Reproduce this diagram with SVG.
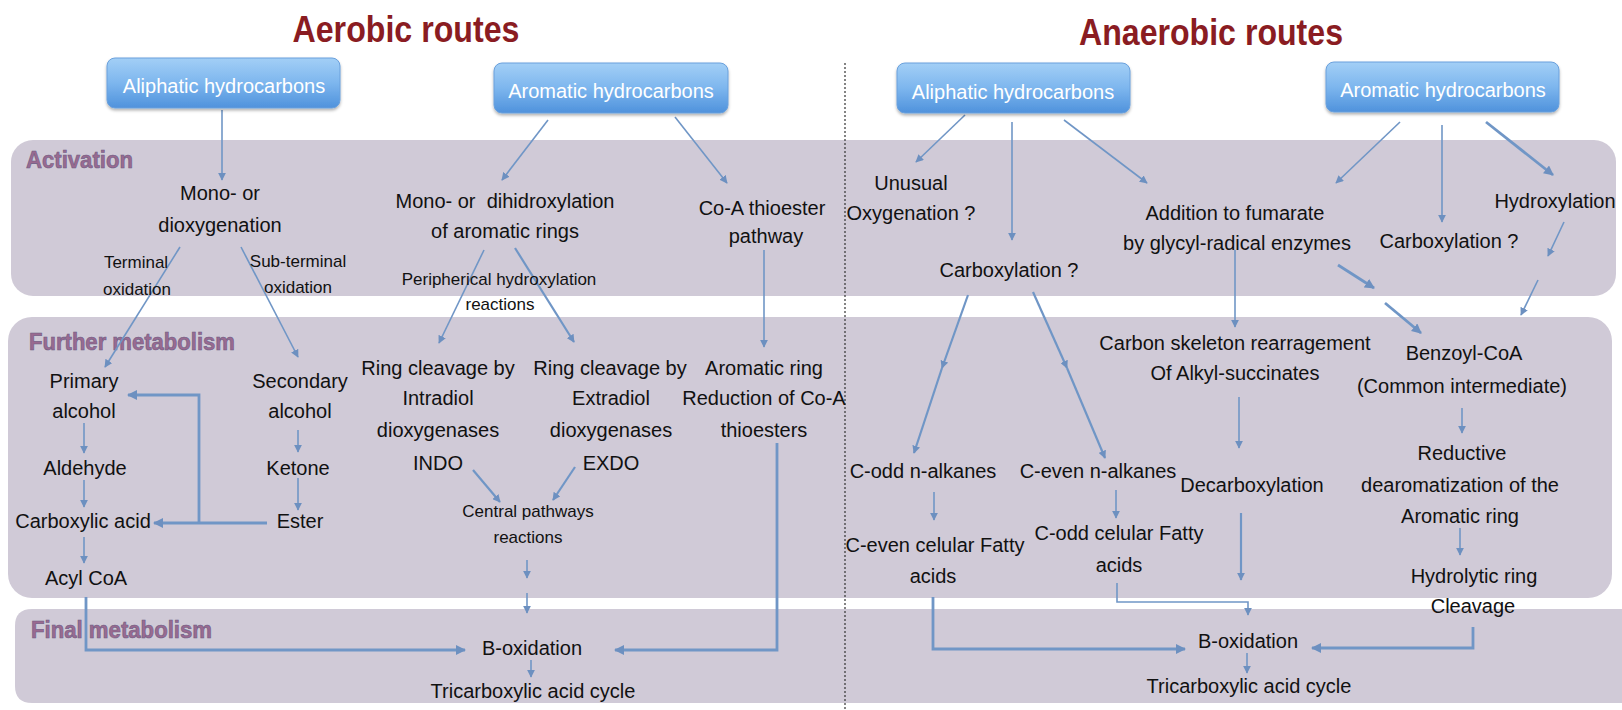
<svg xmlns="http://www.w3.org/2000/svg" width="1622" height="710" viewBox="0 0 1622 710">
<defs>
<linearGradient id="boxg" x1="0" y1="0" x2="0" y2="1">
<stop offset="0" stop-color="#a3cff6"/>
<stop offset="0.5" stop-color="#7db6ee"/>
<stop offset="1" stop-color="#4f92dc"/>
</linearGradient>
<filter id="sh" x="-10%" y="-20%" width="120%" height="150%">
<feDropShadow dx="0" dy="2" stdDeviation="1.5" flood-color="#000" flood-opacity="0.3"/>
</filter>
<marker id="ah" viewBox="0 0 10 10" refX="9" refY="5" markerWidth="8" markerHeight="8" markerUnits="userSpaceOnUse" orient="auto">
<path d="M0,0 L10,5 L0,10 z" fill="#6d90c0"/>
</marker>
<marker id="ahb" viewBox="0 0 10 10" refX="9" refY="5" markerWidth="10" markerHeight="10" markerUnits="userSpaceOnUse" orient="auto">
<path d="M0,0 L10,5 L0,10 z" fill="#6d90c0"/>
</marker>
</defs>
<style>
text{font-family:"Liberation Sans",Arial,sans-serif;fill:#111;}
.t{font-size:20px;text-anchor:middle;}
.s{font-size:17px;text-anchor:middle;}
.title{font-size:37px;font-weight:bold;fill:#8a1c22;text-anchor:middle;}
.band{fill:#d0cad7;}
.bl{font-size:23px;font-weight:bold;fill:#9a6a90;stroke:#6a5c84;stroke-width:0.6;}
.box{fill:url(#boxg);stroke:#6aa0dc;stroke-width:1;filter:url(#sh);}
.bt{font-size:20px;fill:#fff;text-anchor:middle;}
.c{fill:none;stroke:#7096c6;stroke-width:1.6;marker-end:url(#ah);}
.m{fill:none;stroke:#7096c6;stroke-width:2.2;marker-end:url(#ah);}
.k{fill:none;stroke:#7096c6;stroke-width:2.8;marker-end:url(#ahb);}
</style>
<rect width="1622" height="710" fill="#fff"/>

<g id="bands">
<rect class="band" x="11" y="140" width="1605" height="156" rx="22"/>
<rect class="band" x="8" y="317" width="1604" height="281" rx="24"/>
<path class="band" d="M15,626 Q15,609 32,609 L1622,609 L1622,703 L32,703 Q15,703 15,686 Z"/>
<text class="bl" x="26" y="168" textLength="107" lengthAdjust="spacingAndGlyphs">Activation</text>
<text class="bl" x="29" y="350" textLength="206" lengthAdjust="spacingAndGlyphs">Further metabolism</text>
<text class="bl" x="31" y="638" textLength="181" lengthAdjust="spacingAndGlyphs">Final metabolism</text>
</g>

<line x1="845" y1="63" x2="845" y2="710" stroke="#333" stroke-width="1.2" stroke-dasharray="2,2"/>

<g id="titles">
<text class="title" x="406" y="42" textLength="227" lengthAdjust="spacingAndGlyphs">Aerobic routes</text>
<text class="title" x="1211" y="45" textLength="264" lengthAdjust="spacingAndGlyphs">Anaerobic routes</text>
</g>

<g id="connectors">
<path class="c" d="M222,110 L222,180"/>
<path class="c" d="M548,120 L502,180"/>
<path class="c" d="M675,117 L727,183"/>
<path class="c" d="M180,247 L105,367"/>
<path class="c" d="M241,247 L298,357"/>
<path class="c" d="M484,250 L439,343"/>
<path class="m" d="M515,248 L574,342"/>
<path class="c" d="M764,250 L764,347"/>
<path class="c" d="M84,423 L84,453"/>
<path class="c" d="M84,480 L84,507"/>
<path class="c" d="M84,537 L84,563"/>
<path class="c" d="M298,430 L298,452"/>
<path class="c" d="M298,478 L298,510"/>
<path class="k" d="M267,523 L154,523"/>
<path class="k" d="M199,523 L199,395 L128,395"/>
<path class="m" d="M473,470 L500,502"/>
<path class="m" d="M575,467 L553,500"/>
<path class="c" d="M527,560 L527,578"/>
<path class="c" d="M527,593 L527,613"/>
<path class="k" d="M86,597 L86,650 L465,650"/>
<path class="k" d="M777,443 L777,650 L615,650"/>
<path class="c" d="M531,660 L531,677"/>

<path class="c" d="M965,115 L916,162"/>
<path class="c" d="M1012,122 L1012,240"/>
<path class="c" d="M1064,120 L1147,183"/>
<path class="c" d="M1400,122 L1336,183"/>
<path class="c" d="M1442,125 L1442,222"/>
<path class="k" d="M1486,122 L1553,175"/>
<path class="c" d="M1564,222 L1548,256"/>
<path class="c" d="M1538,280 L1521,315"/>
<path class="c" d="M1235,250 L1235,327"/>
<path class="k" d="M1338,265 L1374,288"/>
<path class="k" d="M1385,303 L1421,333"/>
<path class="m" d="M968,295 L942,368"/>
<path class="m" d="M942,368 L914,453"/>
<path class="m" d="M1033,292 L1067,368"/>
<path class="m" d="M1067,368 L1105,458"/>
<path class="c" d="M934,492 L934,520"/>
<path class="c" d="M1116,490 L1116,518"/>
<path class="c" d="M1239,397 L1239,448"/>
<path class="m" d="M1241,513 L1241,580"/>
<path class="c" d="M1117,583 L1117,602 L1248,602 L1248,615"/>
<path class="k" d="M933,597 L933,649 L1185,649"/>
<path class="k" d="M1473,627 L1473,648 L1312,648"/>
<path class="c" d="M1462,408 L1462,433"/>
<path class="c" d="M1460,528 L1460,555"/>
<path class="c" d="M1247,653 L1247,673"/>
</g>

<g id="aer-aliphatic"><rect class="box" x="107" y="58" width="233" height="50" rx="8"/><text class="bt" x="224" y="93">Aliphatic hydrocarbons</text></g>
<g id="aer-aromatic"><rect class="box" x="494" y="63" width="234" height="50" rx="8"/><text class="bt" x="611" y="98">Aromatic hydrocarbons</text></g>
<g id="ana-aliphatic"><rect class="box" x="897" y="63" width="233" height="50" rx="8"/><text class="bt" x="1013" y="99">Aliphatic hydrocarbons</text></g>
<g id="ana-aromatic"><rect class="box" x="1326" y="62" width="233" height="50" rx="8"/><text class="bt" x="1443" y="97">Aromatic hydrocarbons</text></g>

<g id="mono-dioxygenation"><text class="t" x="220" y="200">Mono- or</text><text class="t" x="220" y="232">dioxygenation</text></g>
<g id="terminal-oxidation"><text class="s" x="136" y="268">Terminal</text><text class="s" x="137" y="295">oxidation</text></g>
<g id="subterminal-oxidation"><text class="s" x="298" y="267">Sub-terminal</text><text class="s" x="298" y="293">oxidation</text></g>
<g id="dihidroxylation"><text class="t" x="505" y="208" style="white-space:pre">Mono- or  dihidroxylation</text><text class="t" x="505" y="238">of aromatic rings</text></g>
<g id="peripherical"><text class="s" x="499" y="285">Peripherical hydroxylation</text><text class="s" x="500" y="310">reactions</text></g>
<g id="coa-thioester"><text class="t" x="762" y="215">Co-A thioester</text><text class="t" x="766" y="243">pathway</text></g>

<g id="primary-alcohol"><text class="t" x="84" y="388">Primary</text><text class="t" x="84" y="418">alcohol</text></g>
<g id="secondary-alcohol"><text class="t" x="300" y="388">Secondary</text><text class="t" x="300" y="418">alcohol</text></g>
<g id="aldehyde"><text class="t" x="85" y="475">Aldehyde</text></g>
<g id="ketone"><text class="t" x="298" y="475">Ketone</text></g>
<g id="carboxylic-acid"><text class="t" x="83" y="528">Carboxylic acid</text></g>
<g id="ester"><text class="t" x="300" y="528">Ester</text></g>
<g id="acyl-coa"><text class="t" x="86" y="585">Acyl CoA</text></g>
<g id="intradiol"><text class="t" x="438" y="375">Ring cleavage by</text><text class="t" x="438" y="405">Intradiol</text><text class="t" x="438" y="437">dioxygenases</text><text class="t" x="438" y="470">INDO</text></g>
<g id="extradiol"><text class="t" x="610" y="375">Ring cleavage by</text><text class="t" x="611" y="405">Extradiol</text><text class="t" x="611" y="437">dioxygenases</text><text class="t" x="611" y="470">EXDO</text></g>
<g id="aromatic-ring-reduction"><text class="t" x="764" y="375">Aromatic ring</text><text class="t" x="764" y="405">Reduction of Co-A</text><text class="t" x="764" y="437">thioesters</text></g>
<g id="central-pathways"><text class="s" x="528" y="517">Central pathways</text><text class="s" x="528" y="543">reactions</text></g>
<g id="aer-boxidation"><text class="t" x="532" y="655">B-oxidation</text></g>
<g id="aer-tca"><text class="t" x="533" y="698">Tricarboxylic acid cycle</text></g>

<g id="unusual-oxygenation"><text class="t" x="911" y="190">Unusual</text><text class="t" x="911" y="220">Oxygenation ?</text></g>
<g id="carboxylation-1"><text class="t" x="1009" y="277">Carboxylation ?</text></g>
<g id="addition-fumarate"><text class="t" x="1235" y="220">Addition to fumarate</text><text class="t" x="1237" y="250">by glycyl-radical enzymes</text></g>
<g id="carboxylation-2"><text class="t" x="1449" y="248">Carboxylation ?</text></g>
<g id="hydroxylation"><text class="t" x="1555" y="208">Hydroxylation</text></g>
<g id="carbon-skeleton"><text class="t" x="1235" y="350">Carbon skeleton rearragement</text><text class="t" x="1235" y="380">Of Alkyl-succinates</text></g>
<g id="benzoyl-coa"><text class="t" x="1464" y="360">Benzoyl-CoA</text><text class="t" x="1462" y="393">(Common intermediate)</text></g>
<g id="c-odd-alkanes"><text class="t" x="923" y="478">C-odd n-alkanes</text></g>
<g id="c-even-alkanes"><text class="t" x="1098" y="478">C-even n-alkanes</text></g>
<g id="decarboxylation"><text class="t" x="1252" y="492">Decarboxylation</text></g>
<g id="reductive"><text class="t" x="1462" y="460">Reductive</text><text class="t" x="1460" y="492">dearomatization of the</text><text class="t" x="1460" y="523">Aromatic ring</text></g>
<g id="c-even-fatty"><text class="t" x="935" y="552">C-even celular Fatty</text><text class="t" x="933" y="583">acids</text></g>
<g id="c-odd-fatty"><text class="t" x="1119" y="540">C-odd celular Fatty</text><text class="t" x="1119" y="572">acids</text></g>
<g id="hydrolytic"><text class="t" x="1474" y="583">Hydrolytic ring</text><text class="t" x="1473" y="613">Cleavage</text></g>
<g id="ana-boxidation"><text class="t" x="1248" y="648">B-oxidation</text></g>
<g id="ana-tca"><text class="t" x="1249" y="693">Tricarboxylic acid cycle</text></g>
</svg>
